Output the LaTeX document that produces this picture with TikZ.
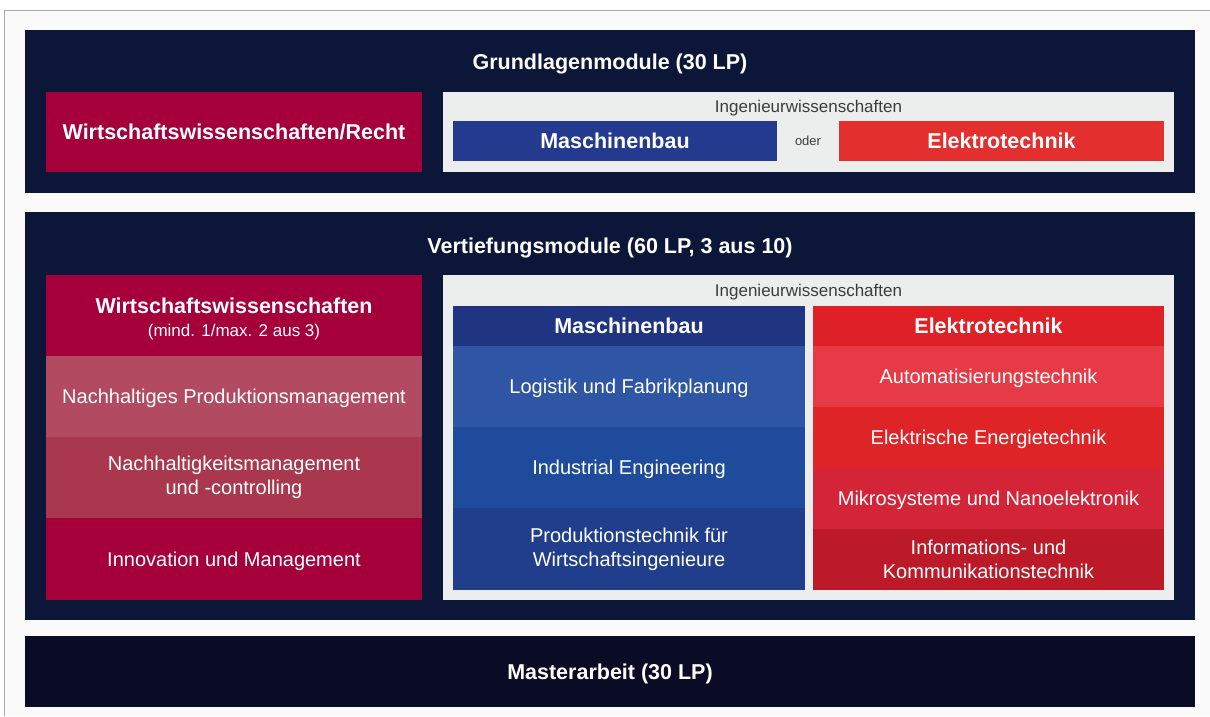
\documentclass[tikz,border=0pt]{standalone}
\usepackage{fontspec}
\setmainfont{Liberation Sans}
\usetikzlibrary{positioning,calc,chains}

\definecolor{panelblue}{HTML}{0B1638}
\definecolor{paneldark}{HTML}{0A0B25}
\definecolor{paper}{HTML}{FAFAFA}
\definecolor{framegray}{HTML}{ABABAB}
\definecolor{labelgray}{HTML}{3C3C3C}
\definecolor{inggray}{HTML}{ECEEEE}
\definecolor{wiwired}{HTML}{A5003A}
\definecolor{wiwirow1}{HTML}{B24A62}
\definecolor{wiwirow2}{HTML}{A9384F}
\definecolor{mbblue}{HTML}{243A8E}
\definecolor{mbhead}{HTML}{1F3582}
\definecolor{mbrow1}{HTML}{2F55A5}
\definecolor{mbrow2}{HTML}{1E4B9C}
\definecolor{mbrow3}{HTML}{213E8C}
\definecolor{etred}{HTML}{E3302F}
\definecolor{ethead}{HTML}{DE2027}
\definecolor{etrow1}{HTML}{E63A47}
\definecolor{etrow2}{HTML}{DF2428}
\definecolor{etrow3}{HTML}{D32438}
\definecolor{etrow4}{HTML}{BD1A29}

\begin{document}
\begin{tikzpicture}[
  x=1pt, y=-1pt,
  node distance = 0pt and 0pt,
  panel/.style={
    fill=#1,
    inner sep=0pt,
    outer sep=0pt,
    anchor=north west,
    minimum width=1170pt,
  },
  cell/.style={
    fill=#1,
    inner sep=0pt,
    outer sep=0pt,
    text=white,
    align=center,
    text depth=0pt,
    font=\fontsize{20}{24}\selectfont,
  },
  two lines/.style={
    text depth=,
  },
  head text/.style={
    text=white,
    text depth=0pt,
    font=\fontsize{21.5}{26}\selectfont\bfseries,
  },
  title/.style={
    head text,
  },
  ing label/.style={
    text=labelgray,
    inner sep=0pt,
    text depth=0pt,
    font=\fontsize{17}{20}\selectfont,
  },
  oder label/.style={
    text=labelgray,
    inner sep=0pt,
    text depth=0pt,
    font=\fontsize{13}{15}\selectfont,
  },
  ]
  \useasboundingbox (0,0) rectangle (1210,716);
  \fill[white] (0,0) rectangle (1210,716);
  \fill[paper] (4,10) rectangle (1210,716);
  \draw[framegray, line width=1pt] (4,716) |- (1210,10);

  % panels
  \node[panel=panelblue, minimum height=163pt] (grund) at (25,30) {};
  \node[panel=panelblue, minimum height=408pt] (vert) at (25,212) {};
  \node[panel=paneldark, minimum height=71pt, title] (master) at (25,636) {Masterarbeit (30 LP)};

  \node[title, below=32pt of grund.north, anchor=center] (grund-title) {Grundlagenmodule (30 LP)};
  \node[title, below=34pt of vert.north, anchor=center] (vert-title) {Vertiefungsmodule (60 LP, 3 aus 10)};

  % Grundlagen
  \node[cell=wiwired, head text, anchor=north west, minimum width=376pt, minimum height=80pt]
  (wiwi-recht) at (46,92) {Wirtschaftswissenschaften/Recht};
  \node[cell=inggray, anchor=north west, minimum width=731pt, minimum height=80pt]
  (ing-grund) at (443,92) {};
  \node[ing label, below=14pt of ing-grund.north, anchor=center] (ing-grund-label) {Ingenieurwissenschaften};
  \node[cell=mbblue, head text, anchor=north west, minimum width=324pt, minimum height=40pt]
  (mb-grund) at (453,121) {Maschinenbau};
  \node[cell=etred, head text, anchor=north east, minimum width=325pt, minimum height=40pt]
  (et-grund) at (1164,121) {Elektrotechnik};
  \node[oder label] (oder) at ($(mb-grund.east)!0.5!(et-grund.west)$) {oder};

  % Vertiefung
  \node[cell=inggray, anchor=north west, minimum width=731pt, minimum height=325pt]
  (ing-vert) at (443,275) {};
  \node[ing label, below=15pt of ing-vert.north, anchor=center] (ing-vert-label) {Ingenieurwissenschaften};

  \begin{scope}[start chain=wiwi going below, every node/.append style={minimum width=376pt, minimum height=81pt}]
    \node[on chain, cell=wiwired, two lines, anchor=north west] (wiwi-head) at (46,275)
    {\rule{0pt}{22pt}\textbf{\fontsize{21.5}{26}\selectfont Wirtschaftswissenschaften}\\[-1pt]{\fontsize{17}{20}\selectfont (mind. 1/max. 2 aus 3)}};
    \node[on chain, cell=wiwirow1] (wiwi-prod) {Nachhaltiges Produktionsmanagement};
    \node[on chain, cell=wiwirow2, two lines] (wiwi-nachh) {Nachhaltigkeitsmanagement\\und -controlling};
    \node[on chain, cell=wiwired, minimum height=82pt] (wiwi-innov) {Innovation und Management};
  \end{scope}
  \begin{scope}[start chain=mb going below, every node/.append style={minimum width=352pt, minimum height=81pt}]
    \node[on chain, cell=mbhead, head text, minimum height=40pt, anchor=north west] (mb-head) at (453,306) {Maschinenbau};
    \node[on chain, cell=mbrow1] (mb-logistik) {Logistik und Fabrikplanung};
    \node[on chain, cell=mbrow2] (mb-ie) {Industrial Engineering};
    \node[on chain, cell=mbrow3, two lines, minimum height=82pt] (mb-prod) {Produktionstechnik für\\Wirtschaftsingenieure};
  \end{scope}
  \begin{scope}[start chain=et going below, every node/.append style={minimum width=351pt, minimum height=61pt}]
    \node[on chain, cell=ethead, head text, minimum height=40pt, anchor=north west] (et-head) at (813,306) {Elektrotechnik};
    \node[on chain, cell=etrow1] (et-auto) {Automatisierungstechnik};
    \node[on chain, cell=etrow2] (et-energie) {Elektrische Energietechnik};
    \node[on chain, cell=etrow3] (et-mikro) {Mikrosysteme und Nanoelektronik};
    \node[on chain, cell=etrow4, two lines] (et-ikt) {Informations- und\\Kommunikationstechnik};
  \end{scope}
\end{tikzpicture}
\end{document}
